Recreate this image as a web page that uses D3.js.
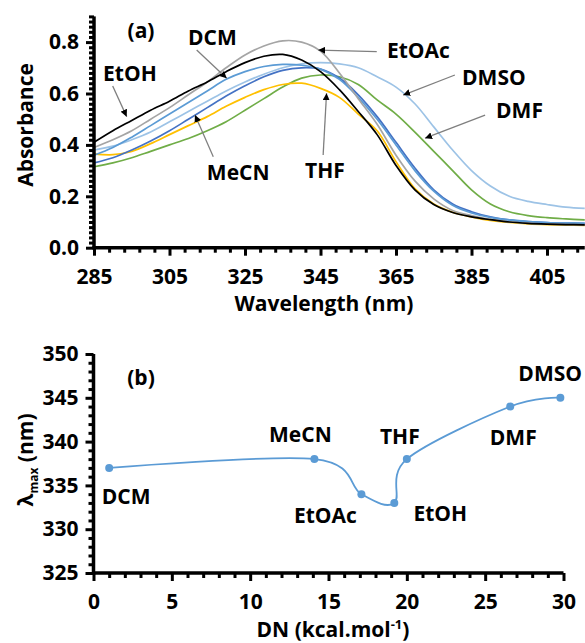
<!DOCTYPE html>
<html><head><meta charset="utf-8">
<script src="https://cdn.jsdelivr.net/npm/d3@7"></script>
<style>
body{margin:0;background:#fff}
svg text{font-family:"Open Sans",sans-serif;font-weight:700;fill:#000}
</style></head><body>
<svg id="chart" width="585" height="643"></svg>
<script>
// ---- (a) UV-Vis absorption spectra ----
const wavelengths = [285,290,295,300,305,310,315,320,325,330,335,340,345,350,355,360,365,370,375,380,385,390,395,400,405,410,415];
const absDMSO  = [.38,.395,.42,.45,.49,.53,.57,.61,.645,.675,.70,.715,.72,.715,.70,.665,.625,.56,.47,.38,.30,.24,.20,.18,.168,.158,.153];
const absDMF   = [.315,.33,.35,.375,.40,.425,.455,.49,.535,.58,.625,.66,.672,.665,.635,.575,.52,.45,.375,.30,.225,.17,.14,.125,.117,.112,.108];
const absTHF   = [.365,.362,.375,.405,.44,.475,.51,.55,.585,.615,.635,.64,.62,.585,.52,.455,.335,.23,.17,.138,.12,.106,.098,.093,.09,.088,.087];
const absMeCN  = [.33,.35,.38,.415,.455,.50,.545,.59,.63,.665,.69,.70,.695,.66,.595,.51,.41,.31,.225,.17,.14,.12,.108,.102,.098,.096,.095];
const absDCM   = [.36,.39,.43,.475,.52,.565,.61,.655,.685,.705,.713,.71,.695,.655,.585,.50,.40,.30,.22,.165,.135,.118,.108,.102,.098,.096,.095];
const absEtOAc = [.39,.42,.455,.50,.545,.595,.645,.70,.75,.785,.805,.80,.765,.68,.58,.48,.36,.26,.19,.145,.125,.11,.10,.095,.092,.09,.089];
const absEtOH  = [.41,.455,.495,.535,.57,.61,.645,.685,.72,.745,.752,.73,.685,.615,.53,.44,.32,.225,.168,.137,.12,.109,.10,.095,.092,.09,.089];

const spectraNames  = ["DMSO","DMF","THF","MeCN","DCM","EtOAc","EtOH"];
const spectraValues = [absDMSO, absDMF, absTHF, absMeCN, absDCM, absEtOAc, absEtOH];
const spectraColors = ["#9DC3E6","#70AD47","#FFC000","#4472C4","#5B9BD5","#A5A5A5","#000000"];

const wlTicks  = [285,305,325,345,365,385,405];
const absTicks = [0,0.2,0.4,0.6,0.8];

// callouts: label anchor and arrow (tail -> head), in (nm, absorbance)
const spectraCallouts = [
  {name:"EtOH",  at:[287.4,.649], from:[289.95,.629], to:[293.66,.51]},
  {name:"DCM",   at:[309.9,.789], from:[312.2,.769],  to:[320.15,.659]},
  {name:"MeCN",  at:[314.9,.263], from:[316.6,.354],  to:[311.75,.516]},
  {name:"EtOAc", at:[362.6,.738], from:[359.9,.763],  to:[344.4,.769]},
  {name:"DMSO",  at:[382.5,.633], from:[380.6,.672],  to:[366.9,.594]},
  {name:"DMF",   at:[391.5,.505], from:[388.6,.516],  to:[372.7,.426]},
  {name:"THF",   at:[340.9,.271], from:[345.7,.361],  to:[346.6,.601]}
];

// ---- (b) lambda max vs donor number ----
const solvents    = ["DCM","MeCN","EtOAc","EtOH","THF","DMF","DMSO"];
const donorNumber = [1, 14.1, 17.1, 19.2, 20, 26.6, 29.8];
const lambdaMax   = [337, 338, 334, 333, 338, 344, 345];
const dnTicks     = [0,5,10,15,20,25,30];
const lmTicks     = [325,330,335,340,345,350];
// label offsets (px) from each point: [dx, dy, anchor]
const pointLabelOffsets = [[17,36,"middle"],[-14,-17,"middle"],[-36,29,"middle"],[46,18,"middle"],[-7,-15,"middle"],[3,38,"middle"],[-42,-17,"start"]];

const svg = d3.select("#chart");
svg.append("rect").attr("width",585).attr("height",643).attr("fill","#fff");

const FS = 21;

function drawAxes(g, x, y, xMajor, xMinor, yMajor, yMinor, fx, fy, xPad, yPad) {
  const [x0, x1] = x.range(), [y0, y1] = y.range();
  // minor ticks
  g.append("g").attr("transform",`translate(0,${y0})`)
    .call(d3.axisBottom(x).tickValues(xMinor).tickSize(5).tickFormat(""))
    .call(a => a.select(".domain").remove())
    .selectAll("line").attr("stroke","#000").attr("stroke-width",3);
  g.append("g").attr("transform",`translate(${x0},0)`)
    .call(d3.axisLeft(y).tickValues(yMinor).tickSize(5).tickFormat(""))
    .call(a => a.select(".domain").remove())
    .selectAll("line").attr("stroke","#000").attr("stroke-width",3);
  // major ticks + labels
  const xa = g.append("g").attr("transform",`translate(0,${y0})`)
    .call(d3.axisBottom(x).tickValues(xMajor).tickSize(8).tickPadding(xPad).tickFormat(fx))
    .call(a => a.select(".domain").remove());
  xa.selectAll("line").attr("stroke","#000").attr("stroke-width",3);
  xa.selectAll("text").attr("font-size",FS).attr("font-family",null);
  const ya = g.append("g").attr("transform",`translate(${x0},0)`)
    .call(d3.axisLeft(y).tickValues(yMajor).tickSize(8).tickPadding(yPad).tickFormat(fy))
    .call(a => a.select(".domain").remove());
  ya.selectAll("line").attr("stroke","#000").attr("stroke-width",3);
  ya.selectAll("text").attr("font-size",FS).attr("font-family",null);
  // axis lines
  g.append("line").attr("x1",x0).attr("x2",x0).attr("y1",y1).attr("y2",y0+1.5)
    .attr("stroke","#000").attr("stroke-width",3.5);
  g.append("line").attr("x1",x0-1.5).attr("x2",x1).attr("y1",y0).attr("y2",y0)
    .attr("stroke","#000").attr("stroke-width",3.5);
}

svg.append("defs").append("marker")
  .attr("id","arrowhead").attr("viewBox","0 0 10 10").attr("refX",10).attr("refY",5)
  .attr("markerWidth",7).attr("markerHeight",7).attr("markerUnits","userSpaceOnUse")
  .attr("orient","auto")
  .append("path").attr("d","M0,0L10,5L0,10z").attr("fill","#000");

// ===== panel (a) =====
{
  const x = d3.scaleLinear().domain([285,415]).range([94,584.75]);
  const y = d3.scaleLinear().domain([0,0.9]).range([247.7,16.4]);
  const g = svg.append("g");

  const line = d3.line().x(d => x(d[0])).y(d => y(d[1])).curve(d3.curveCatmullRom);
  spectraValues.forEach((vals, i) => {
    g.append("path")
      .datum(wavelengths.map((w, j) => [w, vals[j]]))
      .attr("d", line).attr("fill","none")
      .attr("stroke", spectraColors[i]).attr("stroke-width",1.7);
  });

  const xMinor = d3.range(285, 416, 4).filter(v => (v - 285) % 20 !== 0);
  const yMinor = d3.range(0, 46).map(i => i * 0.02).filter((v, i) => i % 10 !== 0);
  drawAxes(g, x, y, wlTicks, xMinor, absTicks, yMinor, d3.format("d"), d3.format(".1f"), 13, 7);

  spectraCallouts.forEach(c => {
    g.append("line")
      .attr("x1", x(c.from[0])).attr("y1", y(c.from[1]))
      .attr("x2", x(c.to[0])).attr("y2", y(c.to[1]))
      .attr("stroke","#7f7f7f").attr("stroke-width",1.3)
      .attr("marker-end","url(#arrowhead)");
    g.append("text").attr("x", x(c.at[0])).attr("y", y(c.at[1]))
      .attr("font-size",FS).text(c.name);
  });

  g.append("text").attr("x",141).attr("y",38).attr("text-anchor","middle")
    .attr("font-size",FS).text("(a)");
  g.append("text").attr("x",324).attr("y",311).attr("text-anchor","middle")
    .attr("font-size",FS).text("Wavelength (nm)");
  g.append("text").attr("transform","translate(33,125) rotate(-90)")
    .attr("text-anchor","middle").attr("font-size",FS).text("Absorbance");
}

// ===== panel (b) =====
{
  const x = d3.scaleLinear().domain([0,30]).range([93.5,563.5]);
  const y = d3.scaleLinear().domain([325,350]).range([573,354]);
  const g = svg.append("g");

  const pts = donorNumber.map((d, i) => [d, lambdaMax[i]]);
  const line = d3.line().x(d => x(d[0])).y(d => y(d[1])).curve(d3.curveCardinal.tension(0));
  g.append("path").datum(pts).attr("d", line).attr("fill","none")
    .attr("stroke","#5B9BD5").attr("stroke-width",1.8);
  g.selectAll("circle.pt").data(pts).enter().append("circle")
    .attr("cx", d => x(d[0])).attr("cy", d => y(d[1])).attr("r",4)
    .attr("fill","#5B9BD5");

  const xMinor = d3.range(0, 31).filter(v => v % 5 !== 0);
  const yMinor = d3.range(325, 351).filter(v => v % 5 !== 0);
  drawAxes(g, x, y, dnTicks, xMinor, lmTicks, yMinor, d3.format("d"), d3.format("d"), 13, 7);

  pts.forEach((p, i) => {
    const o = pointLabelOffsets[i];
    g.append("text").attr("x", x(p[0]) + o[0]).attr("y", y(p[1]) + o[1])
      .attr("text-anchor", o[2]).attr("font-size",FS).text(solvents[i]);
  });

  g.append("text").attr("x",141).attr("y",385).attr("text-anchor","middle")
    .attr("font-size",FS).text("(b)");

  const xt = g.append("text").attr("x",333).attr("y",636.5).attr("text-anchor","middle")
    .attr("font-size",FS);
  xt.append("tspan").text("DN (kcal.mol");
  xt.append("tspan").attr("font-size",13).attr("dy",-8).text("-1");
  xt.append("tspan").attr("dy",8).text(")");

  const yt = g.append("text").attr("transform","translate(33,460) rotate(-90)")
    .attr("text-anchor","middle").attr("font-size",FS);
  yt.append("tspan").text("λ");
  yt.append("tspan").attr("font-size",12).attr("dy",5).text("max");
  yt.append("tspan").attr("dy",-5).text(" (nm)");
}
</script>
</body></html>
